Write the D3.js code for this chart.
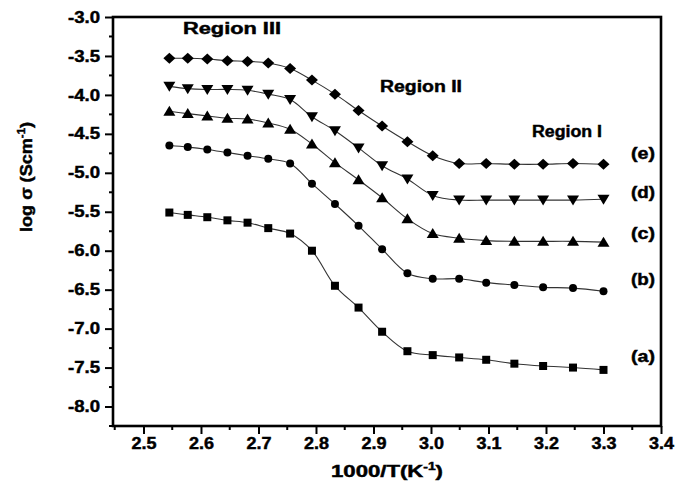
<!DOCTYPE html>
<html><head><meta charset="utf-8">
<script src="https://cdn.jsdelivr.net/npm/d3@7"></script>
<style>body{margin:0;background:#fff} svg{display:block;font-family:"Liberation Sans",Arial,sans-serif;font-weight:bold}
text{stroke:#000;stroke-width:0.45px}</style>
</head><body><svg id="c" width="675" height="490"></svg>
<script>
// 1000/T values (K^-1)
const invT = [2.545, 2.577, 2.611, 2.646, 2.681, 2.717, 2.755, 2.793, 2.833, 2.874, 2.915, 2.959, 3.003, 3.049, 3.096, 3.145, 3.195, 3.247, 3.300];
const seriesA = [-5.51, -5.54, -5.57, -5.61, -5.64, -5.71, -5.78, -6.00, -6.45, -6.73, -7.04, -7.29, -7.34, -7.37, -7.40, -7.45, -7.48, -7.50, -7.53];
const seriesB = [-4.65, -4.67, -4.70, -4.74, -4.78, -4.82, -4.88, -5.14, -5.40, -5.68, -5.98, -6.29, -6.36, -6.36, -6.41, -6.44, -6.47, -6.48, -6.52];
const seriesC = [-4.21, -4.24, -4.27, -4.30, -4.31, -4.36, -4.44, -4.63, -4.87, -5.09, -5.32, -5.59, -5.78, -5.84, -5.87, -5.88, -5.88, -5.88, -5.89];
const seriesD = [-3.89, -3.92, -3.93, -3.93, -3.94, -3.99, -4.06, -4.28, -4.46, -4.68, -4.91, -5.08, -5.29, -5.35, -5.35, -5.35, -5.35, -5.35, -5.34];
const seriesE = [-3.53, -3.53, -3.54, -3.56, -3.57, -3.59, -3.66, -3.81, -3.99, -4.20, -4.40, -4.60, -4.78, -4.88, -4.88, -4.89, -4.89, -4.88, -4.89];
const seriesNames = ["(a)", "(b)", "(c)", "(d)", "(e)"];
const seriesShapes = ["square", "circle", "triangleUp", "triangleDown", "diamond"];
const xTicks = [2.5, 2.6, 2.7, 2.8, 2.9, 3.0, 3.1, 3.2, 3.3, 3.4];
const yTicks = [-3.0, -3.5, -4.0, -4.5, -5.0, -5.5, -6.0, -6.5, -7.0, -7.5, -8.0];
const regionLabels = ["Region III", "Region II", "Region I"];

const svg = d3.select("#c");
const L = 113, R = 661, T = 17, B = 426;
const x = d3.scaleLinear().domain([2.447, 3.4]).range([L, R]);
const y = d3.scaleLinear().domain([-8.25, -3.0]).range([B, T]);

// minor ticks
const xMinor = d3.range(2.45, 3.40, 0.1).map(v => +v.toFixed(2));
const yMinor = d3.range(-3.25, -8.3, -0.5).map(v => +v.toFixed(2));

const g = svg.append("g");
g.selectAll(".xm").data(xMinor).join("line")
  .attr("x1", d => x(d)).attr("x2", d => x(d)).attr("y1", B).attr("y2", B + 4)
  .attr("stroke", "#000").attr("stroke-width", 2);
g.selectAll(".ym").data(yMinor).join("line")
  .attr("x1", L - 4).attr("x2", L).attr("y1", d => y(d)).attr("y2", d => y(d))
  .attr("stroke", "#000").attr("stroke-width", 2);

const xAxis = svg.append("g").attr("transform", `translate(0,${B})`)
  .call(d3.axisBottom(x).tickValues(xTicks).tickFormat(d3.format(".1f")).tickSize(8).tickPadding(4));
const yAxis = svg.append("g").attr("transform", `translate(${L},0)`)
  .call(d3.axisLeft(y).tickValues(yTicks).tickFormat(d => d.toFixed(1)).tickSize(8).tickPadding(5));
[xAxis, yAxis].forEach(a => {
  a.select(".domain").remove();
  a.selectAll(".tick line").attr("stroke", "#000").attr("stroke-width", 2);
  a.selectAll("text").attr("fill", "#000").style("font-size", "16px").style("font-weight", "bold")
    .style("font-family", '"Liberation Sans",Arial,sans-serif')
    .attr("lengthAdjust", "spacingAndGlyphs");
});
xAxis.selectAll("text").attr("textLength", 25).attr("dy", "0.71em");
yAxis.selectAll("text").attr("textLength", 32);

// frame
svg.append("rect").attr("x", L).attr("y", T).attr("width", R - L).attr("height", B - T)
  .attr("fill", "none").attr("stroke", "#000").attr("stroke-width", 2.6);

// series
const allSeries = [seriesA, seriesB, seriesC, seriesD, seriesE];
const line = d3.line().x((d, i) => x(invT[i])).y(d => y(d)).curve(d3.curveCatmullRom.alpha(0.5));
const shapePath = {
  square: "M-4,-4H4V4H-4Z",
  circle: "M-4,0A4,4 0 1,0 4,0A4,4 0 1,0 -4,0Z",
  triangleUp: "M0,-5.5L6,4.5H-6Z",
  triangleDown: "M0,5.5L6,-4.5H-6Z",
  diamond: "M0,-5.5L6,0L0,5.5L-6,0Z"
};
allSeries.forEach((s, k) => {
  svg.append("path").datum(s).attr("d", line).attr("fill", "none")
    .attr("stroke", "#333").attr("stroke-width", 1.1);
  svg.append("g").selectAll("path").data(s).join("path")
    .attr("transform", (d, i) => `translate(${x(invT[i])},${y(d)})`)
    .attr("d", shapePath[seriesShapes[k]]).attr("fill", "#000");
});

// series labels
const labelY = [357, 280, 234, 193, 154];
seriesNames.forEach((n, k) => {
  svg.append("text").attr("x", 631).attr("y", labelY[k]).attr("dy", "0.32em")
    .attr("font-size", 16).attr("textLength", 24).attr("lengthAdjust", "spacingAndGlyphs").text(n);
});

// region labels
const regionPos = [[183, 34, 98], [380, 92, 82], [532, 137, 70]];
regionLabels.forEach((t, k) => {
  svg.append("text").attr("x", regionPos[k][0]).attr("y", regionPos[k][1])
    .attr("font-size", 16).attr("textLength", regionPos[k][2]).attr("lengthAdjust", "spacingAndGlyphs").text(t);
});

// axis titles
const xt = svg.append("text").attr("x", (L + R) / 2).attr("y", 477).attr("text-anchor", "middle")
  .attr("font-size", 16).attr("textLength", 112).attr("lengthAdjust", "spacingAndGlyphs");
xt.append("tspan").text("1000/T(K");
xt.append("tspan").attr("font-size", 10).attr("dy", -7).text("-1");
xt.append("tspan").attr("dy", 7).text(")");

const yt = svg.append("text").attr("transform", "translate(32,177) rotate(-90)").attr("text-anchor", "middle")
  .attr("font-size", 16).attr("textLength", 110).attr("lengthAdjust", "spacingAndGlyphs");
yt.append("tspan").text("log σ (Scm");
yt.append("tspan").attr("font-size", 10).attr("dy", -7).text("-1");
yt.append("tspan").attr("dy", 7).text(")");
</script></body></html>
